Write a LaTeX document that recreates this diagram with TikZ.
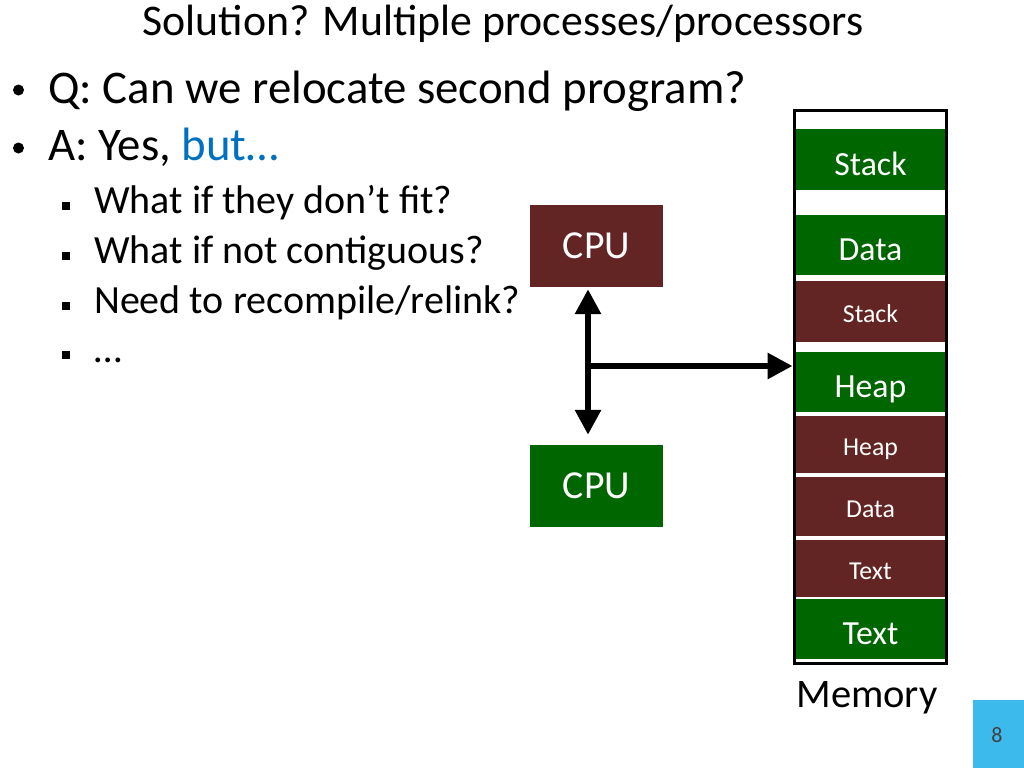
\documentclass[tikz,border=0pt]{standalone}
\usepackage{fontspec}
\setmainfont{Carlito}
\usetikzlibrary{arrows.meta,calc}
\definecolor{dgreen}{HTML}{006600}
\definecolor{dred}{HTML}{632523}
\definecolor{ablue}{HTML}{0070C0}
\definecolor{pblue}{HTML}{3DBAEC}
\tikzset{
  txt/.style={anchor=base west, inner sep=0pt, font=\fontsize{40}{48}\selectfont},
  big/.style={anchor=base west, inner sep=0pt, font=\fontsize{46.8}{56}\selectfont},
  dot/.style={circle, fill=black, minimum size=11pt, inner sep=0pt},
  sq/.style={fill=black, minimum size=8pt, inner sep=0pt},
  seg/.style={minimum width=149pt, inner sep=0pt, text=white, text depth=0pt},
  seglarge/.style={seg, font=\fontsize{33.8}{40}\selectfont, text height=31pt},
  segsmall/.style={seg, font=\fontsize{25.8}{31}\selectfont, text height=22pt},
  cpu/.style={minimum width=133pt, minimum height=82pt, inner sep=0pt, text=white,
     font=\fontsize{39.7}{46}\selectfont, text height=24pt, text depth=0pt},
  bus/.style={line width=6pt},
  tip/.style={-{Triangle[length=25pt,width=25pt]}},
}
\begin{document}
\begin{tikzpicture}[x=1pt,y=-1pt]
\useasboundingbox (0,0) rectangle (1024,768);
% title
\node[anchor=base, inner sep=0pt, font=\fontsize{43.8}{52}\selectfont] (title) at (503,36) {Solution? Multiple processes/processors};
% bullets
\node[dot] (b1) at (18.5,90) {};
\node[big] (q) at (48,103) {Q: Can we relocate second program?};
\node[dot] (b2) at (18.5,148) {};
\node[big] (a) at (48,160) {A: Yes, \textcolor{ablue}{but…}};
\node[sq] (s1) at (66,205.5) {};
\node[txt] (t1) at (94,213) {What if they don’t fit?};
\node[sq] (s2) at (66,255.5) {};
\node[txt] (t2) at (94,263) {What if not contiguous?};
\node[sq] (s3) at (66,305.5) {};
\node[txt] (t3) at (94,313) {Need to recompile/relink?};
\node[sq] (s4) at (66,354.5) {};
\node[txt] (t4) at (94,362) {…};
% CPUs
\node[cpu, fill=dred] (cpu1) at (596.5,246) {CPU};
\node[cpu, fill=dgreen] (cpu2) at (596.5,486) {CPU};
% memory segments
\node[seglarge, fill=dgreen, minimum height=61pt] (m1) at (870.5,159.5) {Stack};
\node[seglarge, fill=dgreen, minimum height=60pt] (m2) at (870.5,245) {Data};
\node[segsmall, fill=dred, minimum height=61pt] (m3) at (870.5,311.5) {Stack};
\node[seglarge, fill=dgreen, minimum height=60pt] (m4) at (870.5,382) {Heap};
\node[segsmall, fill=dred, minimum height=57pt] (m5) at (870.5,444.5) {Heap};
\node[segsmall, fill=dred, minimum height=59pt] (m6) at (870.5,506.5) {Data};
\node[segsmall, fill=dred, minimum height=57pt] (m7) at (870.5,568.5) {Text};
\node[seglarge, fill=dgreen, minimum height=60pt] (m8) at (870.5,629) {Text};
\node[draw=black, line width=3pt, minimum width=152.5pt, minimum height=553pt, inner sep=0pt] (mem) at (870.25,387) {};
\node[anchor=base, inner sep=0pt, font=\fontsize{40.5}{48}\selectfont] (memlbl) at (867,707) {Memory};
% bus
\coordinate (j) at (588,366);
\draw[bus, {Triangle[length=25pt,width=25pt]}-{Triangle[length=25pt,width=25pt]}] ($(cpu1.south -| j)+(0,2)$) coordinate (vtop) -- ($(cpu2.north -| j)+(0,-10)$) coordinate (vbot);
\draw[bus, tip] (j) -- (j -| mem.west);
% page number
\node[fill=pblue, minimum width=51pt, minimum height=68pt, inner sep=0pt] (pg) at (998.5,734) {};
\node[anchor=base, inner sep=0pt, font=\fontsize{22}{26}\selectfont, text=black!75] (pnum) at (997,742) {8};
\end{tikzpicture}
\end{document}
